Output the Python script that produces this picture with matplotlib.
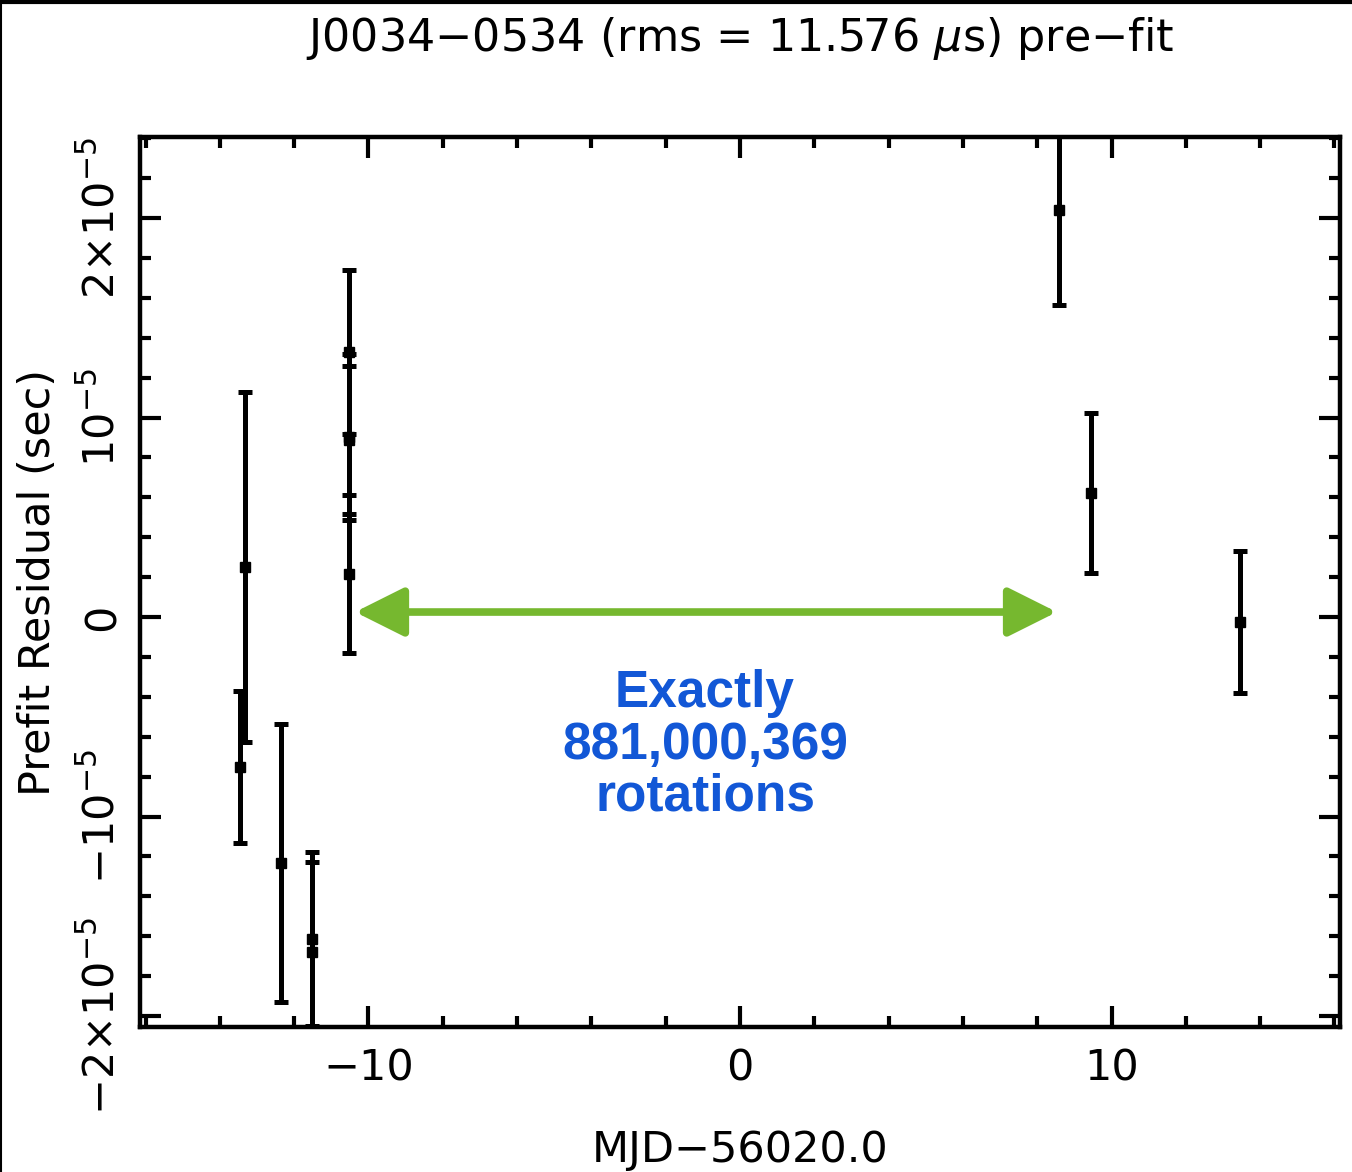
import numpy as np
import matplotlib
matplotlib.use("Agg")
import matplotlib.pyplot as plt
from matplotlib.ticker import MultipleLocator
from matplotlib.lines import Line2D

# ---- data (MJD offset in days, residual in units of 1e-5 s) ----
mjd_offset = [-13.32, -13.46, -12.36, -11.52, -11.52, -10.52, -10.52, -10.52, -10.52, 8.59, 9.45, 13.46]
resid_e5 = [0.251, -0.752, -1.233, -1.614, -1.679, 1.328, 0.902, 0.887, 0.216, 2.040, 0.622, -0.025]
err_e5 = [0.877, 0.381, 0.697, 0.436, 0.451, 0.411, 0.416, 0.371, 0.396, 0.476, 0.401, 0.356]

ytick_vals = [-2, -1, 0, 1, 2]
ytick_labels = [r"$-2{\times}10^{-5}$", r"$-10^{-5}$", "0", r"$10^{-5}$", r"$2{\times}10^{-5}$"]
xtick_vals = [-10, 0, 10]
xtick_labels = ["\u221210", "0", "10"]

arrow_start = -10.36
arrow_end = 8.53
arrow_y = 0.025
note = "Exactly\n881,000,369\nrotations"

plt.rcParams.update({
    "font.family": "DejaVu Sans",
    "mathtext.fontset": "dejavusans",
})

fig = plt.figure(figsize=(13.52, 11.72), dpi=100)
ax = fig.add_axes([140 / 1352, 1 - 1027 / 1172, 1200 / 1352, 890 / 1172])

x = np.array(mjd_offset)
y = np.array(resid_e5) * 1e-5
e = np.array(err_e5) * 1e-5
ax.errorbar(x, y, yerr=e, fmt="s", color="black", markersize=6.5,
            elinewidth=3.6, capsize=5, capthick=3.6, zorder=3)

# green double arrow
ax.annotate("", xy=(arrow_end, arrow_y * 1e-5), xytext=(arrow_start, arrow_y * 1e-5),
            arrowprops=dict(arrowstyle="<|-|>,head_length=1.5,head_width=0.75",
                            color="#76b82f", lw=5.5, shrinkA=0, shrinkB=0,
                            mutation_scale=20), zorder=4)
ax.text(-0.94, -0.642e-5, note, ha="center", va="center", color="#1257d6",
        fontsize=37, fontweight="bold", family="Liberation Sans", linespacing=1.08)

ax.set_xlim(-16.15, 16.15)
ax.set_ylim(-2.055e-5, 2.406e-5)

ax.xaxis.set_minor_locator(MultipleLocator(2))
ax.yaxis.set_minor_locator(MultipleLocator(0.2e-5))
ax.set_xticks(xtick_vals)
ax.set_xticklabels(xtick_labels)
ax.set_yticks([v * 1e-5 for v in ytick_vals])
ax.set_yticklabels(ytick_labels, rotation=90, va="center")

ax.tick_params(which="both", direction="in", top=True, right=True, width=3, labelsize=31)
ax.tick_params(which="major", length=15)
ax.tick_params(which="minor", length=8)
ax.tick_params(axis="x", pad=15)
ax.tick_params(axis="y", pad=12)
for sp in ax.spines.values():
    sp.set_linewidth(3.2)

ax.set_ylabel("Prefit Residual (sec)", fontsize=31, labelpad=16)
fig.text(740 / 1352, 1 - 1150 / 1172, "MJD\u221256020.0", ha="center", va="center", fontsize=31)
fig.text(740 / 1352, 1 - 38 / 1172, "J0034\u22120534 (rms = 11.576 $\\mu$s) pre\u2212fit",
         ha="center", va="center", fontsize=32)

# dark frame edges of the screenshot
fig.add_artist(Line2D([0, 1], [0.9985, 0.9985], color="black", lw=3, transform=fig.transFigure))
fig.add_artist(Line2D([0.0005, 0.0005], [0, 1], color="black", lw=1.5, transform=fig.transFigure))

fig.savefig("out.png", dpi=100)
